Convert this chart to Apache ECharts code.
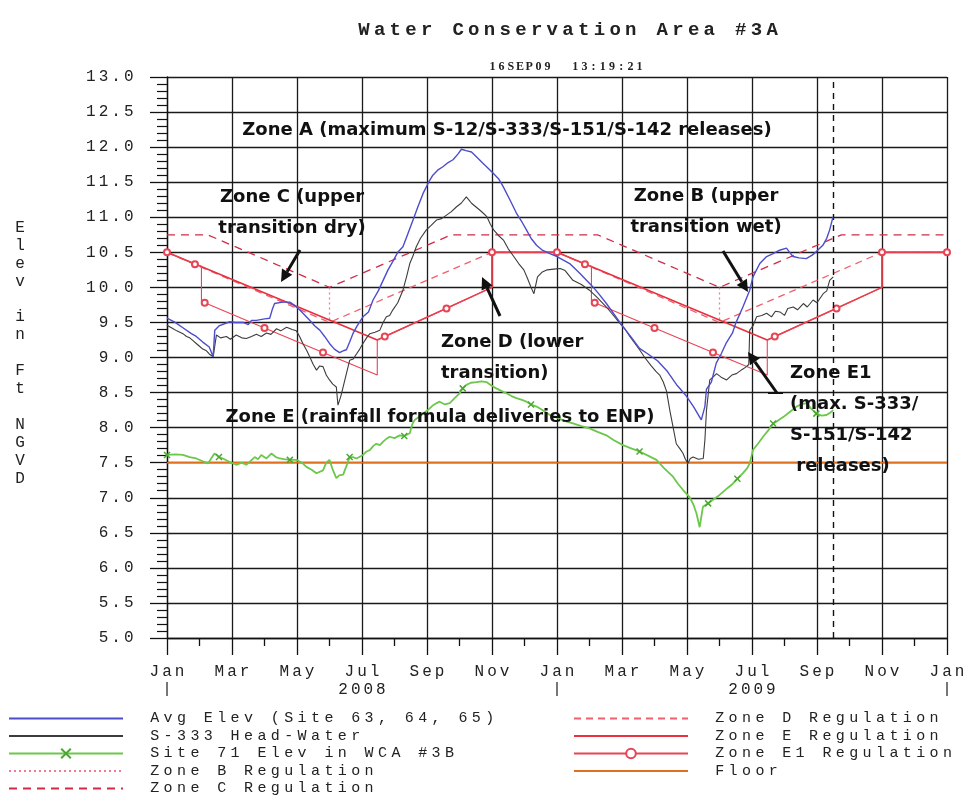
<!DOCTYPE html>
<html>
<head>
<meta charset="utf-8">
<script src="https://cdn.jsdelivr.net/npm/echarts@6/dist/echarts.min.js"></script>
<style>
  html, body { margin: 0; padding: 0; background: #fff; }
  #chart { width: 967px; height: 796px; }
</style>
</head>
<body>
<div id="chart"></div>
<script>
// x values are months since 1 Jan 2008 (0 = Jan 2008, 12 = Jan 2009, 24 = Jan 2010)
const MONTH_LABELS = ['Jan', 'Mar', 'May', 'Jul', 'Sep', 'Nov'];
const YEAR_LABELS = ['2008', '2009'];
const CURRENT_MONTH = 20.5; // 16 Sep 2009

const AVG_ELEV = [
  [0, 9.56], [0.25, 9.5], [0.5, 9.42], [0.75, 9.34], [0.9, 9.3], [1.1, 9.22], [1.3, 9.15], [1.42, 9.01],
  [1.47, 9.39], [1.6, 9.45], [1.93, 9.51], [2.1, 9.5], [2.34, 9.5], [2.5, 9.47], [2.6, 9.53], [2.75, 9.53],
  [3.0, 9.55], [3.16, 9.56], [3.25, 9.7], [3.31, 9.77], [3.55, 9.79], [3.78, 9.79], [3.9, 9.75], [4.08, 9.68],
  [4.25, 9.6], [4.39, 9.53], [4.55, 9.45], [4.7, 9.39], [4.85, 9.3], [5.0, 9.2], [5.15, 9.12], [5.31, 9.07],
  [5.45, 9.1], [5.52, 9.11], [5.62, 9.22], [5.72, 9.34], [5.85, 9.45], [6.03, 9.58], [6.2, 9.65], [6.34, 9.82],
  [6.5, 9.95], [6.65, 10.1], [6.8, 10.25], [6.95, 10.37], [7.1, 10.5], [7.26, 10.58], [7.4, 10.75], [7.57, 10.96],
  [7.72, 11.15], [7.88, 11.34], [8.05, 11.5], [8.18, 11.6], [8.35, 11.68], [8.49, 11.72], [8.65, 11.78], [8.8, 11.82],
  [8.95, 11.9], [9.06, 11.97], [9.2, 11.95], [9.37, 11.93], [9.55, 11.85], [9.72, 11.77], [9.88, 11.7], [10.03, 11.63],
  [10.2, 11.55], [10.34, 11.44], [10.55, 11.25], [10.75, 11.06], [10.9, 10.95], [11.06, 10.82], [11.2, 10.7], [11.37, 10.6],
  [11.55, 10.53], [11.78, 10.48], [12.0, 10.44], [12.39, 10.34], [12.7, 10.2], [13.1, 10.01], [13.3, 9.9], [13.52, 9.77],
  [13.75, 9.62], [14.03, 9.44], [14.3, 9.28], [14.54, 9.13], [14.8, 9.05], [15.1, 8.95], [15.4, 8.8], [15.7, 8.6],
  [15.98, 8.45], [16.2, 8.3], [16.44, 8.11], [16.55, 8.3], [16.6, 8.55], [16.75, 8.65], [16.9, 8.92], [17.05, 9.05],
  [17.2, 9.2], [17.4, 9.35], [17.5, 9.49], [17.72, 9.72], [17.93, 9.96], [18.03, 10.15], [18.24, 10.34], [18.45, 10.44],
  [18.65, 10.48], [18.85, 10.53], [19.06, 10.56], [19.16, 10.5], [19.26, 10.44], [19.45, 10.42], [19.67, 10.41], [19.85, 10.46],
  [19.98, 10.51], [20.18, 10.6], [20.3, 10.7], [20.39, 10.82], [20.49, 11.0]
];

const S333_HW = [
  [0, 9.46], [0.15, 9.42], [0.3, 9.38], [0.49, 9.34], [0.6, 9.3], [0.7, 9.28], [0.8, 9.24], [0.9, 9.2],
  [1.0, 9.16], [1.1, 9.12], [1.2, 9.1], [1.3, 9.05], [1.42, 9.01], [1.52, 9.32], [1.65, 9.28], [1.83, 9.3],
  [1.95, 9.26], [2.13, 9.32], [2.3, 9.28], [2.44, 9.27], [2.6, 9.3], [2.75, 9.33], [2.9, 9.3], [3.06, 9.35],
  [3.2, 9.33], [3.37, 9.41], [3.5, 9.38], [3.68, 9.43], [3.85, 9.4], [3.98, 9.38], [4.08, 9.3], [4.18, 9.2],
  [4.3, 9.1], [4.39, 9.01], [4.5, 8.9], [4.6, 8.82], [4.7, 8.88], [4.8, 8.87], [4.9, 8.75], [5.0, 8.68],
  [5.1, 8.62], [5.21, 8.58], [5.26, 8.32], [5.35, 8.45], [5.42, 8.58], [5.52, 8.77], [5.62, 8.96], [5.73, 8.98],
  [5.83, 9.05], [5.93, 9.12], [6.03, 9.2], [6.14, 9.28], [6.24, 9.34], [6.4, 9.36], [6.55, 9.39], [6.65, 9.5],
  [6.75, 9.58], [6.85, 9.6], [6.95, 9.68], [7.1, 9.78], [7.26, 9.96], [7.37, 10.15], [7.47, 10.34], [7.57, 10.45],
  [7.67, 10.58], [7.8, 10.7], [7.98, 10.82], [8.12, 10.88], [8.29, 10.96], [8.45, 10.98], [8.6, 11.03], [8.75, 11.08],
  [8.91, 11.15], [9.05, 11.2], [9.21, 11.29], [9.3, 11.24], [9.37, 11.2], [9.5, 11.15], [9.63, 11.1], [9.75, 11.05],
  [9.84, 11.01], [9.95, 10.9], [10.05, 10.82], [10.2, 10.74], [10.36, 10.67], [10.5, 10.55], [10.67, 10.44], [10.82, 10.34],
  [10.98, 10.25], [11.1, 10.12], [11.2, 10.0], [11.29, 9.91], [11.4, 10.15], [11.55, 10.22], [11.7, 10.25], [11.9, 10.26],
  [12.1, 10.27], [12.25, 10.24], [12.49, 10.1], [12.75, 10.04], [13.0, 9.96], [13.25, 9.85], [13.52, 9.72], [13.7, 9.62],
  [13.93, 9.49], [14.1, 9.4], [14.24, 9.3], [14.4, 9.2], [14.54, 9.11], [14.7, 9.0], [14.9, 8.88], [15.05, 8.8],
  [15.16, 8.75], [15.27, 8.65], [15.37, 8.52], [15.47, 8.25], [15.57, 8.01], [15.67, 7.77], [15.78, 7.7], [15.88, 7.63],
  [15.95, 7.55], [16.03, 7.49], [16.1, 7.56], [16.19, 7.58], [16.35, 7.55], [16.5, 7.56], [16.55, 7.82], [16.6, 8.25],
  [16.7, 8.68], [16.8, 8.72], [16.91, 8.77], [17.05, 8.72], [17.22, 8.68], [17.38, 8.75], [17.52, 8.77], [17.7, 8.83],
  [17.83, 8.87], [17.9, 8.9], [17.93, 9.39], [18.03, 9.45], [18.14, 9.58], [18.3, 9.6], [18.45, 9.63], [18.6, 9.58],
  [18.72, 9.66], [18.86, 9.65], [19.0, 9.6], [19.1, 9.7], [19.27, 9.72], [19.4, 9.68], [19.58, 9.77], [19.7, 9.72],
  [19.88, 9.82], [20.0, 9.78], [20.19, 9.91], [20.3, 9.95], [20.39, 10.1], [20.5, 10.15]
];

const SITE71 = [
  [0, 7.61], [0.25, 7.62], [0.49, 7.61], [0.7, 7.58], [0.9, 7.56], [1.1, 7.52], [1.26, 7.49], [1.46, 7.63],
  [1.6, 7.58], [1.72, 7.56], [1.93, 7.51], [2.13, 7.47], [2.3, 7.5], [2.44, 7.47], [2.7, 7.58], [2.8, 7.55],
  [2.9, 7.61], [3.06, 7.56], [3.21, 7.63], [3.35, 7.58], [3.47, 7.56], [3.6, 7.55], [3.78, 7.54], [3.98, 7.54],
  [4.15, 7.5], [4.29, 7.44], [4.45, 7.4], [4.6, 7.35], [4.8, 7.39], [4.9, 7.5], [5.0, 7.54], [5.1, 7.4],
  [5.21, 7.28], [5.3, 7.32], [5.42, 7.33], [5.52, 7.45], [5.62, 7.58], [5.72, 7.58], [5.83, 7.56], [6.03, 7.61],
  [6.14, 7.66], [6.24, 7.68], [6.35, 7.74], [6.44, 7.77], [6.55, 7.75], [6.65, 7.8], [6.75, 7.84], [6.85, 7.87],
  [7.0, 7.85], [7.16, 7.89], [7.3, 7.88], [7.47, 7.92], [7.55, 8.05], [7.62, 8.11], [7.75, 8.15], [7.88, 8.2],
  [8.0, 8.24], [8.19, 8.32], [8.3, 8.35], [8.39, 8.37], [8.55, 8.33], [8.7, 8.35], [8.85, 8.42], [9.0, 8.49],
  [9.1, 8.56], [9.21, 8.61], [9.35, 8.64], [9.52, 8.65], [9.68, 8.66], [9.83, 8.65], [9.98, 8.6], [10.13, 8.56],
  [10.3, 8.52], [10.44, 8.49], [10.6, 8.45], [10.75, 8.42], [10.9, 8.4], [11.06, 8.37], [11.2, 8.33], [11.37, 8.3],
  [11.55, 8.25], [11.78, 8.18], [11.98, 8.15], [12.2, 8.1], [12.49, 8.06], [12.75, 8.02], [13.0, 7.99], [13.25, 7.94],
  [13.52, 7.89], [13.75, 7.82], [14.03, 7.75], [14.3, 7.7], [14.54, 7.66], [14.8, 7.6], [15.06, 7.54], [15.3, 7.42],
  [15.57, 7.3], [15.72, 7.2], [15.88, 7.11], [16.08, 7.01], [16.2, 6.9], [16.29, 6.78], [16.39, 6.58], [16.49, 6.87],
  [16.65, 6.92], [16.8, 6.97], [16.95, 7.02], [17.1, 7.08], [17.25, 7.14], [17.41, 7.2], [17.55, 7.27], [17.72, 7.35],
  [17.85, 7.42], [17.93, 7.49], [18.03, 7.68], [18.2, 7.78], [18.34, 7.87], [18.5, 7.96], [18.65, 8.06], [18.8, 8.1],
  [18.96, 8.15], [19.15, 8.22], [19.37, 8.3], [19.5, 8.33], [19.68, 8.35], [19.82, 8.27], [19.98, 8.2], [20.15, 8.17],
  [20.29, 8.18], [20.4, 8.21], [20.5, 8.25]
];
const SITE71_MARKED = [0, 8, 22, 36, 50, 64, 78, 92, 104, 110, 118, 126];

const ZONE_B = [[5, 10.0], [5, 9.5], [5, '-'], [17, 10.0], [17, 9.5]];
const ZONE_C = [[0, 10.75], [1.25, 10.75], [5, 10.0], [8.75, 10.75], [13.25, 10.75], [17, 10.0], [20.75, 10.75], [24, 10.75]];
const ZONE_D = [[0, 10.5], [5, 9.5], [10, 10.5], [12, 10.5], [17, 9.5], [22, 10.5], [24, 10.5]];
const ZONE_E = [[0, 10.5], [6.47, 9.25], [10, 10.0], [10, 10.5], [12, 10.5], [18.47, 9.25], [22, 10.0], [22, 10.5], [24, 10.5]];
const ZONE_E1 = [
  [0, 10.5], [0.86, 10.33], [1.06, 10.3], [1.06, 9.8], [1.16, 9.78], [3.0, 9.42], [4.8, 9.07], [6.47, 8.75],
  [6.47, 9.25], [6.7, 9.3], [8.6, 9.7], [10, 10.0], [10, 10.5], [12, 10.5], [12.86, 10.33], [13.06, 10.3],
  [13.06, 9.8], [13.16, 9.78], [15.0, 9.42], [16.8, 9.07], [18.47, 8.75], [18.47, 9.25], [18.7, 9.3], [20.6, 9.7],
  [22, 10.0], [22, 10.5], [24, 10.5]
];
const ZONE_E1_MARKED = [0, 1, 4, 5, 6, 9, 10, 12, 13, 14, 17, 18, 19, 22, 23, 25, 26];
const FLOOR = [[0, 7.5], [24, 7.5]];

const LEFT_LEGEND = ['Avg Elev (Site 63, 64, 65)', 'S-333 Head-Water', 'Site 71 Elev in WCA #3B', 'Zone B Regulation', 'Zone C Regulation'];
const RIGHT_LEGEND = ['Zone D Regulation', 'Zone E Regulation', 'Zone E1 Regulation', 'Floor'];
const LEGEND_WITH_MARKER = ['Site 71 Elev in WCA #3B', 'Zone E1 Regulation'];

const MONO = '"Liberation Mono", "DejaVu Sans Mono", monospace';
const NOTE_FONT = '"DejaVu Sans", "Open Sans", sans-serif';
const CROSS = 'path://M0,0L10,10M10,0L0,10';

// Evenly pitched text: every character sits in a fixed-width rich-text box.
function spaced(text, style) {
  return Array.from(text).map(ch => '{' + style + '|' + ch + '}').join('');
}

function withMarks(points, marked, symbol) {
  const set = new Set(marked);
  return points.map((p, i) => set.has(i) ? { value: p, symbol: symbol } : { value: p, symbol: 'none' });
}

function legendItems(names) {
  return names.map(n => LEGEND_WITH_MARKER.includes(n) ? { name: n } : { name: n, itemStyle: { opacity: 0 } });
}

function arrow(x1, y1, x2, y2) {
  const ang = Math.atan2(y2 - y1, x2 - x1);
  const len = 12, half = 6;
  const bx = x2 - len * Math.cos(ang), by = y2 - len * Math.sin(ang);
  const px = -Math.sin(ang) * half, py = Math.cos(ang) * half;
  return [
    { type: 'line', shape: { x1: x1, y1: y1, x2: bx, y2: by }, style: { stroke: '#111', lineWidth: 3 }, z: 50 },
    { type: 'polygon', shape: { points: [[x2, y2], [bx + px, by + py], [bx - px, by - py]] }, style: { fill: '#111' }, z: 50 }
  ];
}

function note(text, x, y, align) {
  return {
    type: 'text', x: x, y: y, z: 60,
    style: {
      text: text, align: align || 'center', verticalAlign: 'middle',
      fontFamily: NOTE_FONT, fontWeight: 'bold', fontSize: 18, lineHeight: 31, fill: '#111'
    }
  };
}

const axisRich = { ax: { fontFamily: MONO, fontSize: 16, width: 12.6, align: 'center', color: '#222', lineHeight: 16 },
                   bar: { fontFamily: MONO, fontSize: 15, color: '#222', lineHeight: 14 } };
const legendRich = { sp: { width: 20, lineHeight: 12 }, lg: { fontFamily: MONO, fontSize: 15, width: 13.4, align: 'center', color: '#222', lineHeight: 12 } };

const legendBase = {
  orient: 'vertical', top: 711, height: 120, padding: 0, itemWidth: 114, itemHeight: 12, itemGap: 2.5, selectedMode: false,
  formatter: name => '{sp|}' + spaced(name, 'lg'),
  textStyle: { rich: legendRich }
};

const chart = echarts.init(document.getElementById('chart'), null, { renderer: 'canvas' });

chart.setOption({
  animation: false,
  backgroundColor: '#fff',
  title: [
    {
      text: spaced('Water Conservation Area #3A', 't'), left: 563, top: 14, textAlign: 'center',
      textStyle: { rich: { t: { fontFamily: MONO, fontSize: 19, width: 15.7, align: 'center', color: '#222', lineHeight: 22 } } }
    },
    {
      text: spaced('16SEP09  13:19:21', 'd'), left: 561, top: 56, textAlign: 'center',
      textStyle: { rich: { d: { fontFamily: '"Liberation Serif", serif', fontSize: 12, width: 9.2, align: 'center', color: '#222', lineHeight: 12 } } }
    }
  ],
  legend: [
    Object.assign({}, legendBase, { left: 8, data: legendItems(LEFT_LEGEND) }),
    Object.assign({}, legendBase, { left: 573, data: legendItems(RIGHT_LEGEND) })
  ],
  grid: { left: 167, top: 77, right: 20, bottom: 158, containLabel: false, outerBoundsMode: 'none' },
  xAxis: [
    {
      type: 'value', min: 0, max: 24, interval: 2,
      axisLine: { lineStyle: { color: '#111', width: 1.3 } },
      axisTick: { length: 17, lineStyle: { color: '#111', width: 1.3 } },
      minorTick: { show: true, splitNumber: 2, length: 8, lineStyle: { color: '#111', width: 1.3 } },
      splitLine: { show: true, lineStyle: { color: '#1a1a1a', width: 1.3 } },
      axisLabel: { margin: 26, formatter: v => spaced(MONTH_LABELS[Math.round(v / 2) % 6], 'ax'), rich: axisRich }
    },
    {
      type: 'value', min: 0, max: 24, interval: 6, position: 'bottom',
      axisLine: { show: false }, axisTick: { show: false }, splitLine: { show: false },
      axisLabel: {
        margin: 44,
        formatter: v => (v % 12 === 0) ? '{bar||}' : spaced(YEAR_LABELS[Math.floor(v / 12)], 'ax'),
        rich: axisRich
      }
    }
  ],
  yAxis: {
    type: 'value', min: 5, max: 13, interval: 0.5,
    axisLine: { show: true, lineStyle: { color: '#111', width: 1.3 } },
    axisTick: { show: true, length: 17, lineStyle: { color: '#111', width: 1.3 } },
    minorTick: { show: true, splitNumber: 5, length: 10, lineStyle: { color: '#111', width: 1.2 } },
    splitLine: { show: true, lineStyle: { color: '#1a1a1a', width: 1.3 } },
    axisLabel: { margin: 32, formatter: v => spaced(v.toFixed(1), 'ax'), rich: axisRich }
  },
  series: [
    {
      name: 'Floor', type: 'line', data: FLOOR, symbol: 'none', z: 3,
      color: '#e0701e', lineStyle: { color: '#e0701e', width: 1.5 },
      markLine: {
        silent: true, symbol: ['none', 'none'], label: { show: false },
        lineStyle: { color: '#111', width: 1.4, type: [6, 5] },
        data: [{ xAxis: CURRENT_MONTH }]
      }
    },
    {
      name: 'Zone B Regulation', type: 'line', data: ZONE_B, symbol: 'none', z: 3, connectNulls: false,
      color: '#f27a96', lineStyle: { color: '#f27a96', width: 1.3, type: [2, 3] }
    },
    {
      name: 'Zone C Regulation', type: 'line', data: ZONE_C, symbol: 'none', z: 3,
      color: '#d02c48', lineStyle: { color: '#d02c48', width: 1.3, type: [8, 6] }
    },
    {
      name: 'Zone D Regulation', type: 'line', data: ZONE_D, symbol: 'none', z: 3,
      color: '#f0606e', lineStyle: { color: '#f0606e', width: 1.3, type: [7, 5] }
    },
    {
      name: 'Zone E Regulation', type: 'line', data: ZONE_E, symbol: 'none', z: 3,
      color: '#e8303e', lineStyle: { color: '#e8303e', width: 1.6 }
    },
    {
      name: 'Zone E1 Regulation', type: 'line', data: withMarks(ZONE_E1, ZONE_E1_MARKED, 'emptyCircle'),
      symbol: 'emptyCircle', symbolSize: 6, showSymbol: true, z: 4,
      color: '#e84454', lineStyle: { color: '#e84454', width: 1.1 },
      itemStyle: { color: '#e84454', borderColor: '#e84454', borderWidth: 1.2 }
    },
    {
      name: 'Site 71 Elev in WCA #3B', type: 'line', data: withMarks(SITE71, SITE71_MARKED, CROSS),
      symbol: CROSS, symbolSize: 6, showSymbol: true, z: 5,
      color: '#6cc84a', lineStyle: { color: '#6cc84a', width: 1.8 },
      itemStyle: { color: '#6cc84a', borderColor: '#4aa830', borderWidth: 1.5 }
    },
    {
      name: 'S-333 Head-Water', type: 'line', data: S333_HW, symbol: 'none', z: 5,
      color: '#3c3c3c', lineStyle: { color: '#3c3c3c', width: 1.1 }
    },
    {
      name: 'Avg Elev (Site 63, 64, 65)', type: 'line', data: AVG_ELEV, symbol: 'none', z: 6,
      color: '#4d4dcc', lineStyle: { color: '#4d4dcc', width: 1.4 }
    }
  ],
  graphic: [
    {
      type: 'text', x: 20, y: 353, z: 10,
      style: {
        text: 'E\nl\ne\nv\n\ni\nn\n\nF\nt\n\nN\nG\nV\nD', align: 'center', verticalAlign: 'middle',
        fontFamily: MONO, fontSize: 16, lineHeight: 17.9, fill: '#222'
      }
    },
    note('Zone A (maximum S-12/S-333/S-151/S-142 releases)', 507, 130),
    note('Zone C (upper\ntransition dry)', 292, 213),
    note('Zone B (upper\ntransition wet)', 706, 212),
    note('Zone D (lower\ntransition)', 441, 358, 'left'),
    note('Zone E1\n(max. S-333/\nS-151/S-142\n releases)', 790, 420, 'left'),
    note('Zone E (rainfall formula deliveries to ENP)', 440, 417),
    ...arrow(300, 250, 281, 282),
    ...arrow(723, 251, 748, 292),
    ...arrow(500, 316, 482, 277),
    ...arrow(777, 393, 748, 352),
    { type: 'line', shape: { x1: 768, y1: 393, x2: 783, y2: 393 }, style: { stroke: '#111', lineWidth: 2 }, z: 50 }
  ]
});
</script>
</body>
</html>
